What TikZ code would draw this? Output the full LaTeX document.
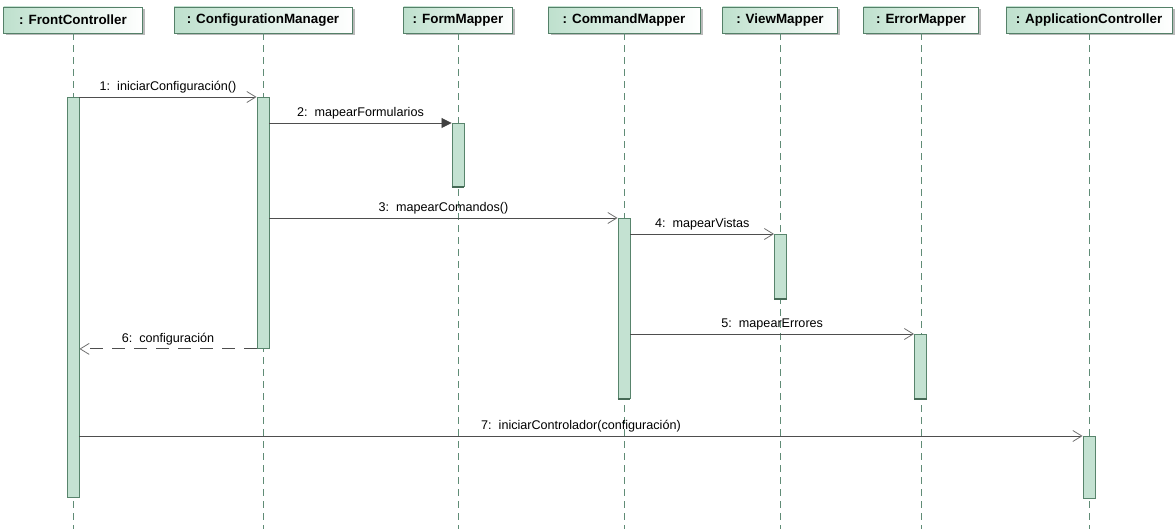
\documentclass[tikz,border=0pt]{standalone}
\usepackage{fontspec}
\setmainfont{Liberation Sans}
\usetikzlibrary{arrows.meta,shadows}
\definecolor{hdrgreen}{RGB}{190,224,205}
\definecolor{hdredge}{RGB}{84,128,104}
\definecolor{barfill}{RGB}{196,226,210}
\definecolor{baredge}{RGB}{88,132,108}
\definecolor{lifecol}{RGB}{96,140,118}
\definecolor{msgcol}{RGB}{78,78,78}
\definecolor{tipcol}{RGB}{112,112,112}
\tikzset{
  header/.style={draw=hdredge, line width=0.9pt, left color=hdrgreen, right color=white,
    minimum height=26pt, inner sep=0pt, font=\fontsize{13.4}{15}\selectfont\bfseries,
    drop shadow={shadow xshift=2.5pt, shadow yshift=-2.5pt, fill=black!45, opacity=0.6}},
  lifeline/.style={draw=lifecol, line width=0.9pt, dash pattern=on 7pt off 5pt},
  actbar/.style={draw=baredge, fill=barfill, line width=0.9pt, minimum width=12pt, inner sep=0pt},
  msg/.style={draw=msgcol, line width=0.8pt, -{Straight Barb[length=9pt,width=11pt,line width=0.8pt,color=tipcol]}},
  syncmsg/.style={draw=msgcol, line width=0.8pt, -{Triangle[length=10pt,width=10pt,color=black!75]}},
  retmsg/.style={msg, dash pattern=on 13pt off 9pt},
  msglabel/.style={font=\fontsize{12.6}{14}\selectfont, inner sep=1pt, above=2pt}
}
\begin{document}
\begin{tikzpicture}[x=1pt,y=-1pt]
\useasboundingbox (0,0) rectangle (1176,529);
\coordinate (bottom) at (0,529);

% object headers
\node[header, minimum width=139pt] (h1) at (73,20) {: FrontController};
\node[header, minimum width=178pt] (h2) at (263,20) {: ConfigurationManager};
\node[header, minimum width=109pt] (h3) at (458,20) {: FormMapper};
\node[header, minimum width=152pt] (h4) at (624,20) {: CommandMapper};
\node[header, minimum width=115pt] (h5) at (780,20) {: ViewMapper};
\node[header, minimum width=115pt] (h6) at (921,20) {: ErrorMapper};
\node[header, minimum width=166pt] (h7) at (1089,20) {: ApplicationController};

% lifelines
\foreach \h in {h1,h2,h3,h4,h5,h6,h7}
  \draw[lifeline] (\h.south) -- (\h.south |- bottom);

% activation bars
\node[actbar, minimum height=400pt, anchor=north] (a1) at (73,97) {};
\node[actbar, minimum height=251pt, anchor=north] (a2) at (263,97) {};
\node[actbar, minimum height=63pt, anchor=north] (a3) at (458,123) {};
\node[actbar, minimum height=180pt, anchor=north] (a4) at (624,218) {};
\node[actbar, minimum height=64pt, anchor=north] (a5) at (780.5,234) {};
\node[actbar, minimum height=64pt, anchor=north] (a6) at (920.5,334) {};
\node[actbar, minimum height=62pt, anchor=north] (a7) at (1089,436) {};
\foreach \a in {a3,a4,a5,a6}
  \draw[baredge!80!black, line width=1.4pt] (\a.south west) -- (\a.south east);

% messages
\draw[msg] (a1.north east) -- node[msglabel] {1:\ \ iniciarConfiguración()} (a2.north west);
\draw[syncmsg] (a2.east |- a3.north) -- node[msglabel] {2:\ \ mapearFormularios} (a3.north west);
\draw[msg] (a2.east |- a4.north) -- node[msglabel] {3:\ \ mapearComandos()} (a4.north west);
\draw[msg] (a4.east |- a5.north) -- node[msglabel] {4:\ \ mapearVistas} (a5.north west);
\draw[msg] (a4.east |- a6.north) -- node[msglabel] {5:\ \ mapearErrores} (a6.north west);
\draw[retmsg] (a2.south west) -- node[msglabel] {6:\ \ configuración} (a1.east |- a2.south);
\draw[msg] (a1.east |- a7.north) -- node[msglabel] {7:\ \ iniciarControlador(configuración)} (a7.north west);
\end{tikzpicture}
\end{document}
